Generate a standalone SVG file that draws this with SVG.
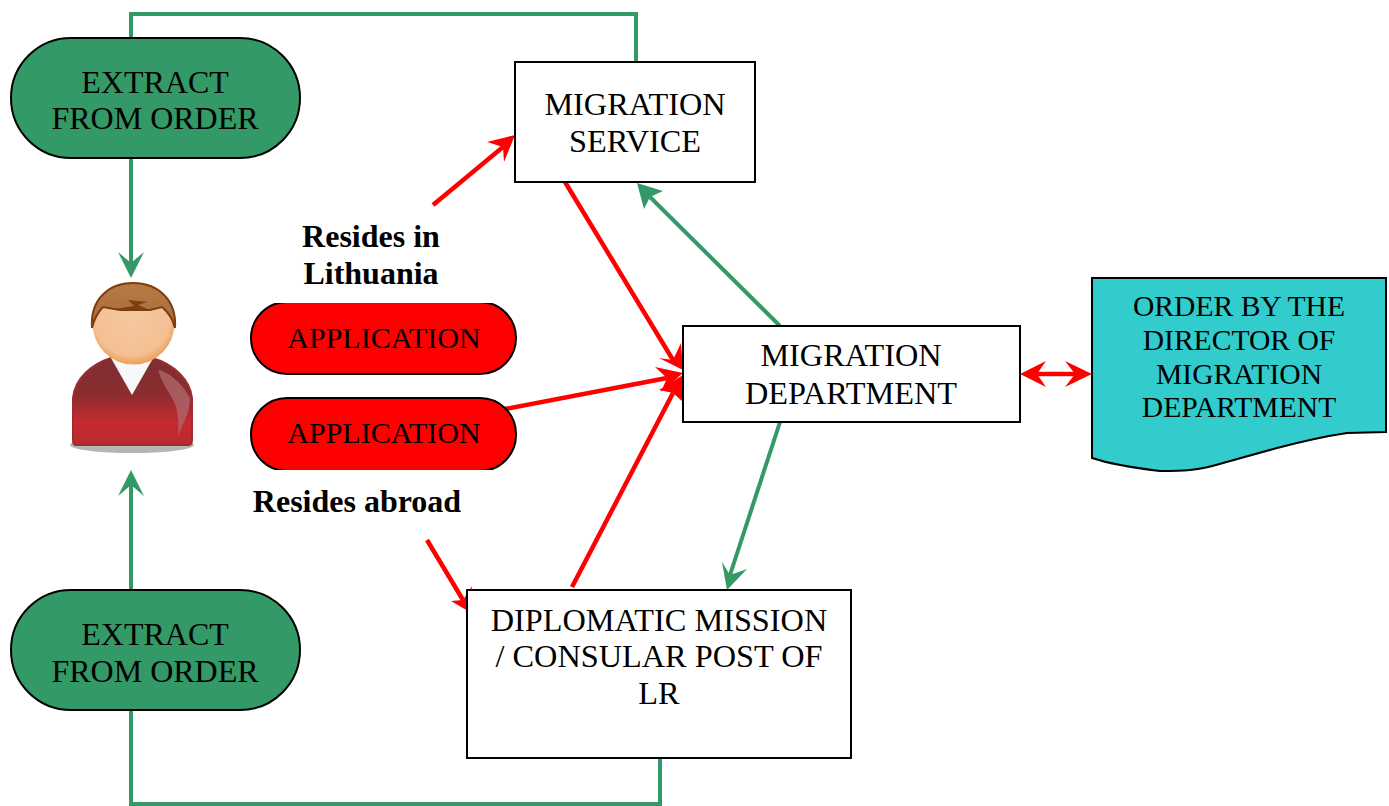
<svg xmlns="http://www.w3.org/2000/svg" width="1389" height="806" viewBox="0 0 1389 806">
<style>
text{font-family:"Liberation Serif","Times New Roman",serif;font-size:32.3px;fill:#000;text-anchor:middle}
.b{font-weight:bold;font-size:32px}
.e{font-size:32px}
.m{font-size:30px}
.o{font-size:29.6px}
.box{fill:#fff;stroke:#000;stroke-width:2}
.g{fill:#339966;stroke:#000;stroke-width:2}
.r{fill:#f00;stroke:#000;stroke-width:2}
.cr{fill:none;stroke:#f00;stroke-width:4.5}
.cg{fill:none;stroke:#339966;stroke-width:4}
.hr{fill:#f00}.hg{fill:#339966}
</style>
<defs>
<linearGradient id="sw" x1="0" y1="0" x2="0" y2="1"><stop offset="0" stop-color="#7d2f33"/><stop offset=".42" stop-color="#8c2c30"/><stop offset=".75" stop-color="#c62a30"/><stop offset="1" stop-color="#b92a30"/></linearGradient>
<radialGradient id="face" cx=".48" cy=".42" r=".6"><stop offset="0" stop-color="#f5c8a0"/><stop offset=".78" stop-color="#f4c094"/><stop offset="1" stop-color="#ea9a4c"/></radialGradient>
<linearGradient id="hair" x1="0" y1="0" x2="0" y2="1"><stop offset="0" stop-color="#b87a45"/><stop offset="1" stop-color="#a86a38"/></linearGradient>
<clipPath id="c1"><rect x="245" y="303" width="280" height="75"/></clipPath>
<clipPath id="c2"><rect x="245" y="394" width="280" height="76"/></clipPath>
</defs>
<g id="connectors">
<path class="cg" d="M131 38V14H636V62"/>
<path class="cg" d="M131 158V265"/>
<path class="hg" d="M118 252L131 278L144 252L131 263Z"/>
<path class="cg" d="M131 590V483"/>
<path class="hg" d="M118 496L131 470L144 496L131 485Z"/>
<path class="cg" d="M131 710V804H660V758"/>
<path class="cr" d="M433 205L503 147"/>
<path class="hr" d="M515 135L487 142L503 147L504 162Z"/>
<path class="cr" d="M565 182L673 360"/>
<path class="hr" d="M683 370L681 343L673 360L659 358Z"/>
<path class="cg" d="M780 326L650 197"/>
<path class="hg" d="M637 183L663 191L650 197L644 209Z"/>
<path class="cr" d="M505 409L667 378"/>
<path class="hr" d="M683 373L655 367L667 378L661 392Z"/>
<path class="cr" d="M572 587L673 393"/>
<path class="hr" d="M683 375L659 390L673 393L683 402Z"/>
<path class="cg" d="M780 422L730 575"/>
<path class="hg" d="M727 590L747 569L730 575L722 562Z"/>
<path class="cr" d="M427 540L463 600"/>
<path class="hr" d="M468 611L451 601L463 600L472 586Z"/>
<path class="cr" d="M1035 374H1077"/>
<path class="hr" d="M1020 374L1046 361L1037 374L1046 387Z"/>
<path class="hr" d="M1092 374L1065 361L1075 374L1065 387Z"/>
</g>
<g id="extract-top"><rect class="g" x="11" y="38" width="289" height="120" rx="60"/><text class="e" x="155" y="93">EXTRACT</text><text class="e" x="155" y="129">FROM ORDER</text></g>
<g id="extract-bottom"><rect class="g" x="11" y="590" width="289" height="120" rx="60"/><text class="e" x="155" y="645">EXTRACT</text><text class="e" x="155" y="682">FROM ORDER</text></g>
<g id="person">
<ellipse cx="132" cy="445" rx="62" ry="8" fill="#b5b5b5"/>
<path d="M76 445Q73 445 73 440V398C75 378 92 364 111 358H152C174 364 190 380 192 398V440Q192 445 188 445Z" fill="url(#sw)" stroke="#a02a30" stroke-width="2"/>
<path d="M111 358L132 395L152 360Z" fill="#f6f8f9"/>
<path d="M158 370C170 372 184 386 190 398C190 415 181 425 178 437C179 420 178 408 172 398C166 388 161 380 158 370Z" fill="#b06a6e" opacity=".75"/>
<circle cx="133.5" cy="323.5" r="41" fill="url(#face)"/>
<path d="M92 328C90 300 108 283 133 283C158 283 177 300 175 328C173 320 168 312 162 307L150 310L120 310L103 307C98 312 94 320 92 328Z" fill="url(#hair)" stroke="#7c3f12" stroke-width="2"/>
<path d="M128 300L147 302L138 305L150 310L115 309L134 306Z" fill="#7c3f12"/>
</g>
<g id="label-lithuania"><text class="b" x="371" y="247">Resides in</text><text class="b" x="371" y="284">Lithuania</text></g>
<g id="application-1"><rect class="r" x="251" y="302" width="265" height="72" rx="36" clip-path="url(#c1)"/><text class="m" x="384" y="348">APPLICATION</text></g>
<g id="application-2"><rect class="r" x="251" y="398" width="265" height="73" rx="36" clip-path="url(#c2)"/><text class="m" x="384" y="443">APPLICATION</text></g>
<g id="label-abroad"><text class="b" x="357" y="512">Resides abroad</text></g>
<g id="migration-service"><rect class="box" x="515" y="62" width="240" height="120"/><text x="635" y="115">MIGRATION</text><text x="635" y="152">SERVICE</text></g>
<g id="migration-department"><rect class="box" x="683" y="326" width="337" height="96"/><text x="851" y="366">MIGRATION</text><text x="851" y="404">DEPARTMENT</text></g>
<g id="diplomatic"><rect class="box" x="467" y="590" width="384" height="168"/><text x="659" y="631">DIPLOMATIC MISSION</text><text x="659" y="667">/ CONSULAR POST OF</text><text x="659" y="704">LR</text></g>
<g id="order"><path d="M1092 278H1386V432L1347 433C1320 437 1300 442 1277 448L1223 463C1210 467 1200 469 1190 470C1180 471 1170 471 1160 471C1135 468 1110 464 1092 458Z" fill="#33cccc" stroke="#000" stroke-width="2"/>
<text class="o" x="1239" y="316">ORDER BY THE</text><text class="o" x="1239" y="350">DIRECTOR OF</text><text class="o" x="1239" y="384">MIGRATION</text><text class="o" x="1239" y="417">DEPARTMENT</text></g>
</svg>
